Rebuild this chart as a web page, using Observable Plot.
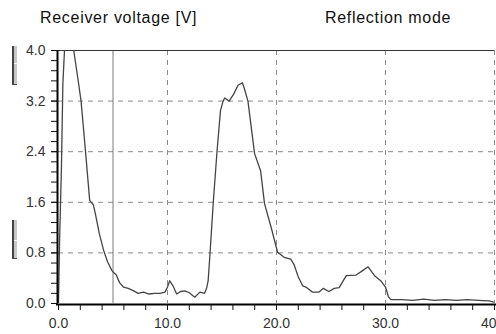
<!DOCTYPE html>
<html>
<head>
<meta charset="utf-8">
<script src="https://cdn.jsdelivr.net/npm/d3@7"></script>
<script src="https://cdn.jsdelivr.net/npm/@observablehq/plot@0.6"></script>
<style>
  html, body { margin: 0; padding: 0; background: #fff; }
  #wrap { position: relative; width: 496px; height: 334px; overflow: hidden; font-family: "Liberation Sans", Arial, sans-serif; }
  .title { position: absolute; top: 9px; font-size: 16px; letter-spacing: 0.7px; color: #111; white-space: nowrap; }
  .slider { position: absolute; left: 12px; width: 3px; background: #c8c8c8; border-left: 2px solid #444; border-bottom: 1px solid #444; }
  .slider .mid { position: absolute; left: 0; right: 0; height: 1px; background: #fff; }
</style>
</head>
<body>
<div id="wrap">
  <div class="title" style="left:40px">Receiver voltage [V]</div>
  <div class="title" style="left:325px">Reflection mode</div>
  <div class="slider" style="top:46px;height:38px"><div class="mid" style="top:17px"></div></div>
  <div class="slider" style="top:220px;height:38px"><div class="mid" style="top:20px"></div></div>
</div>
<script>
// Receiver voltage trace (reflection mode)
const position = [
  0.0, 0.1, 0.27, 0.4, 0.55, 0.8, 1.1, 1.4, 1.85, 2.07, 2.47, 2.86, 3.2, 3.38, 3.75, 4.14, 4.5, 4.9,
  5.3, 5.6, 5.96, 6.4, 6.9, 7.3, 7.8, 8.3, 8.8, 9.3, 9.77, 10.0, 10.2, 10.5, 10.84, 11.2, 11.6, 12.0,
  12.5, 12.97, 13.4, 13.6, 13.73, 13.9, 14.2, 14.55, 14.86, 15.1, 15.25, 15.65, 16.07, 16.47, 16.87,
  17.05, 17.38, 17.99, 18.54, 18.9, 19.5, 20.1, 20.7, 21.3, 21.6, 22.0, 22.4, 22.7, 23.3, 23.9, 24.3,
  24.8, 25.3, 25.75, 26.4, 27.3, 27.9, 28.4, 29.0, 29.56, 30.0, 30.26, 30.5, 31.5, 32.5, 33.5, 34.5,
  35.5, 36.5, 37.5, 38.5, 39.5, 40.0
];
const voltage = [
  0.0, 1.0, 2.15, 3.47, 4.0, 4.5, 4.5, 4.0, 3.47, 3.2, 2.42, 1.63, 1.56, 1.42, 1.1, 0.84, 0.66, 0.52,
  0.45, 0.33, 0.26, 0.24, 0.2, 0.16, 0.18, 0.15, 0.16, 0.16, 0.18, 0.26, 0.36, 0.28, 0.15, 0.19, 0.2, 0.17,
  0.1, 0.18, 0.16, 0.25, 0.36, 0.79, 1.6, 2.42, 3.05, 3.2, 3.25, 3.2, 3.31, 3.45, 3.49,
  3.4, 3.2, 2.37, 2.1, 1.58, 1.21, 0.81, 0.73, 0.7, 0.62, 0.42, 0.28, 0.26, 0.18, 0.18, 0.24,
  0.19, 0.24, 0.25, 0.44, 0.45, 0.52, 0.58, 0.44, 0.36, 0.26, 0.11, 0.06, 0.06, 0.05, 0.07, 0.05,
  0.06, 0.05, 0.06, 0.05, 0.04, 0.02
];

// Axis ticks and grid
const yMinorTicks = d3.range(0, 26).map(i => +(i * 0.16).toFixed(2));
const yLabelTicks = [0, 0.8, 1.6, 2.4, 3.2, 4.0];
const yGrid = [0.8, 1.6, 2.4, 3.2];
const xMinorTicks = d3.range(0, 21).map(i => i * 2);
const xLabelTicks = [0, 10, 20, 30, 40];
const xGrid = [10, 20, 30, 40];
const cursorAt = [5];

const trace = position.map((x, i) => ({x, v: voltage[i]}));
const noLabel = () => "";

const chart = Plot.plot({
  width: 496,
  height: 334,
  marginTop: 50,
  marginBottom: 31,
  marginLeft: 58,
  marginRight: 2,
  style: {fontFamily: "'Liberation Sans', Arial, sans-serif", fontSize: "14px", color: "#333", background: "transparent"},
  x: {domain: [0, 40]},
  y: {domain: [0, 4]},
  marks: [
    Plot.gridY(yGrid, {stroke: "#8a8a8a", strokeOpacity: 1, strokeDasharray: "5,5"}),
    Plot.gridX(xGrid, {stroke: "#8a8a8a", strokeOpacity: 1, strokeDasharray: "5,5"}),
    Plot.ruleX(cursorAt, {stroke: "#7a7a7a", strokeWidth: 1}),
    Plot.ruleY([4], {stroke: "#333", strokeWidth: 1}),
    Plot.line(trace, {x: "x", y: "v", stroke: "#444", strokeWidth: 1.3, clip: true}),
    Plot.ruleY([0], {stroke: "#000", strokeWidth: 2, dy: 1, inset: -2}),
    Plot.ruleX([0], {stroke: "#000", strokeWidth: 2, dx: -1}),
    Plot.axisY(yMinorTicks, {tickSize: 7, tickFormat: noLabel, label: null, stroke: "#111"}),
    Plot.axisY(yLabelTicks, {tickSize: 7, tickPadding: 6, tickFormat: d => d.toFixed(1), label: null,
      stroke: "#111", fill: "#333", letterSpacing: "0.5px", fontSize: 14}),
    Plot.axisX(xMinorTicks, {tickSize: 6, tickFormat: noLabel, label: null, stroke: "#111", dy: 1}),
    Plot.axisX(xLabelTicks, {tickSize: 6, tickPadding: 8, tickFormat: d => d.toFixed(1),
      label: null, stroke: "#111", fill: "#333", letterSpacing: "0.5px", fontSize: 14, dy: 1})
  ]
});
chart.style.position = "absolute";
chart.style.left = "0";
chart.style.top = "0";
document.getElementById("wrap").appendChild(chart);
</script>
</body>
</html>
